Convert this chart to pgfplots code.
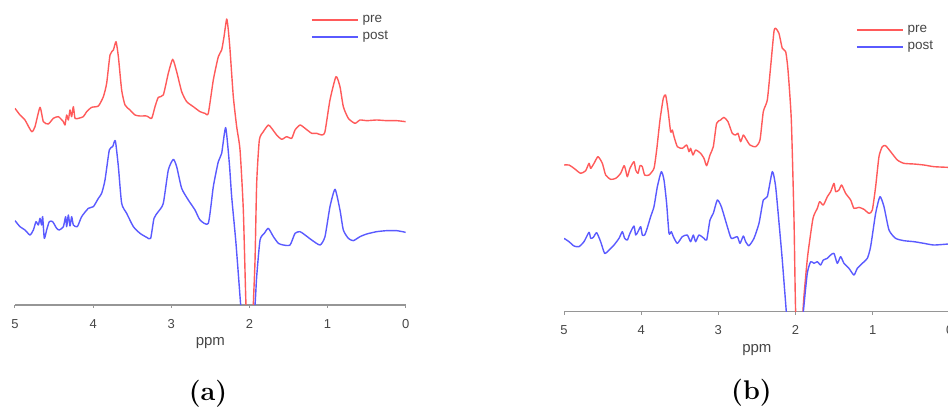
\documentclass[border=0pt]{standalone}
\usepackage{pgfplots}
\pgfplotsset{compat=1.18}
\usepackage{fontspec}
\newfontfamily\arial{Liberation Sans}
\definecolor{prec}{RGB}{255,90,90}
\definecolor{postc}{RGB}{90,90,255}
\definecolor{axc}{RGB}{150,150,150}
\definecolor{txt}{RGB}{70,70,70}
\pgfplotsset{mrs/.style={
  scale only axis, x dir=reverse, xmin=0, xmax=5, ymin=0,
  axis x line=bottom, axis y line=none,
  axis line style={-, axc, line width=1.1pt},
  xtick={0,1,2,3,4,5}, ytick=\empty, tick align=outside, major tick length=3pt,
  every tick/.style={axc, line width=1pt},
  /pgf/number format/assume math mode=true,
  tick label style={font=\arial\fontsize{13}{15}\selectfont, text=txt},
  xticklabel style={anchor=north, inner sep=0pt, yshift=-11pt},
  xlabel={ppm},
  xlabel style={font=\arial\fontsize{15}{17}\selectfont, text=txt, at={(axis description cs:0.5,0)}, anchor=center, yshift=-38pt},
  every axis plot/.append style={line width=1.4pt, line join=round, smooth, tension=0.35},
}}
\tikzset{leg/.style={font=\arial\fontsize{13.5}{15}\selectfont, text=txt, anchor=mid west, inner sep=0pt}}
\begin{document}
\begin{tikzpicture}
\useasboundingbox (0,0) rectangle (948pt,412pt);
% ---------------- panel (a)
\begin{axis}[mrs, at={(15pt,107pt)}, anchor=south west, width=390.7pt, height=305pt, ymax=915]
\addplot[prec] coordinates {(5.000,590)(4.936,570)(4.872,555)(4.787,520)(4.744,535)(4.680,593)(4.637,550)(4.573,543)(4.509,560)(4.445,565)(4.381,550)(4.360,540)(4.339,570)(4.317,555)(4.296,585)(4.275,565)(4.253,595)(4.232,560)(4.189,560)(4.125,565)(4.083,580)(4.019,593)(3.933,597)(3.869,625)(3.827,665)(3.784,750)(3.741,765)(3.707,790)(3.677,745)(3.635,645)(3.592,600)(3.528,585)(3.464,570)(3.400,567)(3.315,567)(3.251,560)(3.208,595)(3.166,623)(3.102,630)(3.038,695)(2.982,737)(2.931,700)(2.867,640)(2.803,610)(2.718,595)(2.632,580)(2.568,575)(2.526,575)(2.462,675)(2.398,745)(2.355,765)(2.325,805)(2.291,858)(2.270,825)(2.248,765)(2.206,625)(2.163,535)(2.120,465)(2.078,285)(2.044,0)(1.992,-300)(1.950,0)(1.928,135)(1.907,365)(1.873,495)(1.822,520)(1.758,540)(1.715,530)(1.651,510)(1.587,497)(1.523,505)(1.459,500)(1.416,525)(1.352,540)(1.288,530)(1.203,515)(1.139,515)(1.075,510)(1.033,520)(0.969,615)(0.892,685)(0.841,655)(0.798,595)(0.734,560)(0.649,545)(0.585,555)(0.499,553)(0.371,555)(0.243,553)(0.115,553)(0.000,550)};
\addplot[postc] coordinates {(5.000,253)(4.936,235)(4.872,225)(4.808,210)(4.765,225)(4.731,250)(4.701,240)(4.680,260)(4.659,240)(4.646,265)(4.625,200)(4.595,225)(4.561,250)(4.518,250)(4.467,230)(4.433,225)(4.381,235)(4.352,265)(4.339,235)(4.317,270)(4.296,237)(4.275,265)(4.253,240)(4.202,235)(4.147,265)(4.061,290)(3.997,295)(3.933,320)(3.891,335)(3.848,375)(3.793,465)(3.750,475)(3.716,493)(3.677,415)(3.635,305)(3.571,275)(3.485,235)(3.400,215)(3.315,203)(3.264,200)(3.221,260)(3.166,280)(3.102,305)(3.038,405)(2.974,437)(2.931,415)(2.867,350)(2.782,315)(2.696,285)(2.632,255)(2.526,245)(2.462,355)(2.398,430)(2.355,455)(2.304,532)(2.257,425)(2.227,325)(2.172,185)(2.112,0)(2.014,-300)(1.928,0)(1.907,85)(1.864,195)(1.809,215)(1.758,230)(1.693,205)(1.629,185)(1.566,180)(1.480,180)(1.416,215)(1.352,220)(1.288,210)(1.203,195)(1.096,180)(1.033,205)(0.969,295)(0.904,347)(0.841,285)(0.798,225)(0.734,200)(0.670,193)(0.585,205)(0.499,213)(0.371,220)(0.243,223)(0.115,223)(0.000,218)};
\draw[prec, line width=1.5pt] (axis description cs:0.760,0.934) -- ++(46pt,0pt) node[leg, xshift=4pt] {pre};
\draw[postc, line width=1.5pt] (axis description cs:0.760,0.879) -- ++(46pt,0pt) node[leg, xshift=4pt] {post};
\end{axis}
% ---------------- panel (b)
\begin{axis}[mrs, at={(564pt,100.3pt)}, anchor=south west, width=385.8pt, height=311.7pt, ymax=935]
\addplot[prec] coordinates {(5.000,440)(4.935,440)(4.870,430)(4.784,415)(4.719,423)(4.676,445)(4.654,430)(4.611,445)(4.559,465)(4.503,445)(4.460,410)(4.395,397)(4.330,400)(4.266,415)(4.222,438)(4.201,425)(4.179,405)(4.145,430)(4.093,450)(4.071,425)(4.041,415)(4.015,438)(3.985,435)(3.955,410)(3.898,410)(3.834,430)(3.799,485)(3.756,575)(3.713,640)(3.683,650)(3.652,605)(3.618,540)(3.596,545)(3.574,525)(3.531,495)(3.467,490)(3.410,500)(3.380,480)(3.359,490)(3.328,470)(3.294,485)(3.229,475)(3.186,460)(3.151,438)(3.108,470)(3.065,495)(3.022,565)(2.970,575)(2.927,583)(2.875,570)(2.819,535)(2.775,530)(2.745,535)(2.711,510)(2.676,530)(2.646,520)(2.590,500)(2.516,495)(2.460,515)(2.417,600)(2.365,635)(2.322,735)(2.279,840)(2.257,850)(2.214,835)(2.171,790)(2.127,780)(2.097,725)(2.054,575)(2.019,275)(1.998,0)(1.946,-300)(1.903,0)(1.868,105)(1.838,175)(1.773,280)(1.717,310)(1.687,330)(1.639,320)(1.587,345)(1.544,360)(1.501,385)(1.479,360)(1.436,365)(1.402,380)(1.350,355)(1.285,335)(1.242,310)(1.177,313)(1.112,307)(1.047,295)(1.004,305)(0.961,375)(0.918,465)(0.875,495)(0.832,498)(0.767,480)(0.680,455)(0.594,445)(0.464,443)(0.335,440)(0.205,435)(0.024,433)(0.000,433)};
\addplot[postc] coordinates {(5.000,220)(4.935,210)(4.870,197)(4.806,195)(4.741,210)(4.676,238)(4.654,220)(4.620,223)(4.577,237)(4.525,210)(4.473,175)(4.417,185)(4.352,200)(4.287,220)(4.244,240)(4.214,220)(4.179,215)(4.145,235)(4.093,257)(4.071,230)(4.041,240)(4.006,255)(3.985,230)(3.955,230)(3.929,245)(3.877,285)(3.834,315)(3.790,375)(3.739,420)(3.704,395)(3.670,325)(3.639,235)(3.609,240)(3.583,225)(3.531,205)(3.467,225)(3.402,230)(3.359,210)(3.324,230)(3.294,210)(3.251,230)(3.186,220)(3.151,215)(3.108,275)(3.065,295)(3.013,335)(2.961,315)(2.883,255)(2.832,220)(2.754,225)(2.719,205)(2.676,227)(2.646,210)(2.603,198)(2.538,220)(2.473,265)(2.417,335)(2.365,345)(2.300,420)(2.257,375)(2.205,245)(2.171,155)(2.119,0)(2.019,-300)(1.898,0)(1.847,115)(1.803,150)(1.760,145)(1.717,150)(1.674,140)(1.639,155)(1.587,160)(1.544,170)(1.501,175)(1.458,145)(1.415,165)(1.371,145)(1.307,130)(1.242,110)(1.199,130)(1.134,145)(1.069,160)(1.026,195)(0.961,295)(0.905,345)(0.853,315)(0.788,245)(0.702,220)(0.594,213)(0.464,210)(0.335,205)(0.205,200)(0.024,203)(0.000,203)};
\draw[prec, line width=1.5pt] (axis description cs:0.759,0.904) -- ++(46pt,0pt) node[leg, xshift=4pt] {pre};
\draw[postc, line width=1.5pt] (axis description cs:0.759,0.849) -- ++(46pt,0pt) node[leg, xshift=4pt] {post};
\end{axis}
\node[font=\fontsize{27}{30}\selectfont\bfseries] at (208pt,18pt) {(a)};
\node[font=\fontsize{27}{30}\selectfont\bfseries] at (751.5pt,19pt) {(b)};
\end{tikzpicture}
\end{document}
